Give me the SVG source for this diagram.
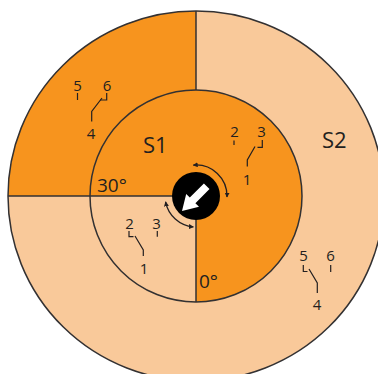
<svg xmlns="http://www.w3.org/2000/svg" width="378" height="374" viewBox="0 0 378 374">
  <style>
    .dark { fill: #F7941E; }
    .light { fill: #F9C99A; }
    .edge { fill: none; stroke: #333132; stroke-width: 1.5; }
    .wire { fill: none; stroke: #231F20; stroke-width: 1.2; }
    .big { font-family: "Open Sans", "Liberation Sans", sans-serif; font-size: 22px; fill: #231F20; }
    .deg { font-family: "Open Sans", "Liberation Sans", sans-serif; font-size: 19px; fill: #231F20; }
    .num { font-family: "Open Sans", "Liberation Sans", sans-serif; font-size: 15px; fill: #231F20; text-anchor: middle; }
    .rot { fill: none; stroke: #231F20; stroke-width: 1.3; marker-start: url(#ah); marker-end: url(#ah); }
  </style>
  <defs>
    <marker id="ah" viewBox="0 0 8 8" refX="7" refY="4" markerWidth="5" markerHeight="5" markerUnits="userSpaceOnUse" orient="auto-start-reverse">
      <path d="M0,0 L8,4 L0,8 Z" fill="#231F20"/>
    </marker>
  </defs>

  <g id="outer-ring">
    <ellipse class="light" cx="196" cy="196" rx="188" ry="185"/>
    <path class="dark" d="M196,196 V11 A188,185 0 0 0 8,196 Z"/>
    <ellipse class="edge" cx="196" cy="196" rx="188" ry="185"/>
  </g>

  <g id="inner-disk">
    <circle class="dark" cx="196" cy="196" r="106"/>
    <path class="light" d="M196,196 H90 A106,106 0 0 0 196,302 Z"/>
    <circle class="edge" cx="196" cy="196" r="106"/>
  </g>

  <g id="dividers">
    <path class="edge" d="M8,196 H196 V302"/>
    <path class="edge" d="M196,11 V90"/>
  </g>

  <g id="hub">
    <circle cx="196" cy="196" r="24" fill="#000"/>
    <polygon fill="#fff" points="182,211 186.2,194 189.8,197.6 203.9,183.5 209.5,189.1 195.4,203.2 199,206.8"/>
  </g>

  <g id="rotation-arrows">
    <path class="rot" d="M193.3,165.1 A31,31 0 0 1 227,197"/>
    <path class="rot" d="M165.6,201.9 A31,31 0 0 0 193.3,226.9"/>
  </g>

  <g id="labels">
    <text class="big" x="143" y="153">S1</text>
    <text class="big" x="322" y="148">S2</text>
    <text class="deg" x="97" y="192">30°</text>
    <text class="deg" x="199" y="288">0°</text>
  </g>

  <g id="switch-s2-top">
    <text class="num" x="77.5" y="90.5">5</text>
    <text class="num" x="107" y="90.5">6</text>
    <text class="num" x="91" y="138.5">4</text>
    <path class="wire" d="M77.5,93 V100"/>
    <path class="wire" d="M106.7,93 V100 H100"/>
    <path class="wire" d="M91.7,121.5 V111.5 L102,98"/>
  </g>

  <g id="switch-s1-top">
    <text class="num" x="234.5" y="137">2</text>
    <text class="num" x="261.5" y="137">3</text>
    <text class="num" x="247" y="184.5">1</text>
    <path class="wire" d="M234,140.5 V145"/>
    <path class="wire" d="M262.3,140 V147.3 H257.5"/>
    <path class="wire" d="M247.3,166.5 V160 L255,146.5"/>
  </g>

  <g id="switch-s1-bottom">
    <text class="num" x="129.5" y="228.8">2</text>
    <text class="num" x="156.5" y="228.8">3</text>
    <text class="num" x="144" y="273.5">1</text>
    <path class="wire" d="M129,231 V236.7 H133.5"/>
    <path class="wire" d="M143.3,256 V250 L135,236"/>
    <path class="wire" d="M157.3,231 V236.7"/>
  </g>

  <g id="switch-s2-bottom">
    <text class="num" x="303.5" y="261">5</text>
    <text class="num" x="330.5" y="261">6</text>
    <text class="num" x="317" y="310">4</text>
    <path class="wire" d="M303.3,265 V271.5 H307.5"/>
    <path class="wire" d="M317.3,293 V283 L309,269"/>
    <path class="wire" d="M330.7,265 V272"/>
  </g>
</svg>
